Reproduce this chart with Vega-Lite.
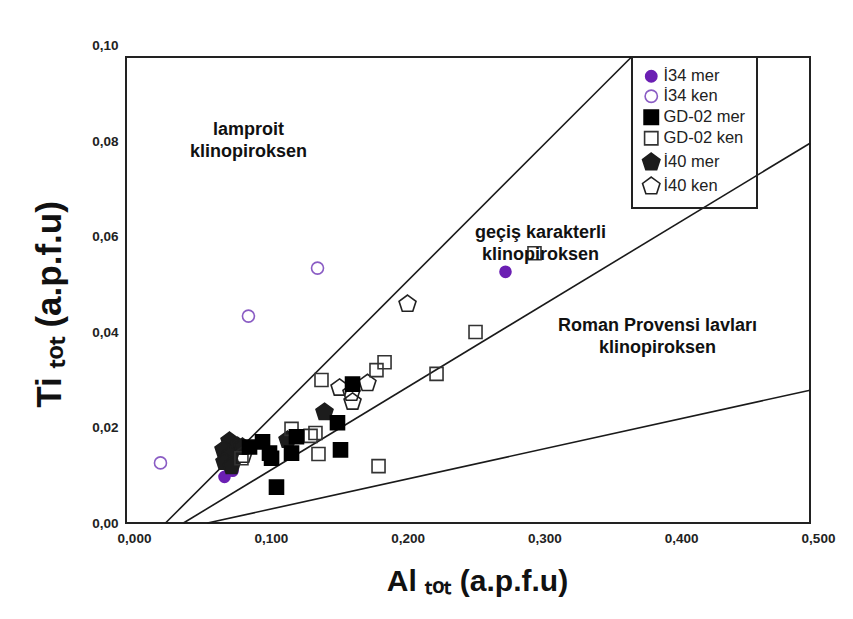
{
  "$schema": "https://vega.github.io/schema/vega-lite/v6.json",
  "width": 684,
  "height": 466,
  "autosize": {"type": "none"},
  "padding": {"left": 126, "top": 57, "right": 43, "bottom": 96},
  "background": "white",
  "datasets": {
    "lines": [
      {"line": "a", "x": 0.0289, "y": 0},
      {"line": "a", "x": 0.3695, "y": 0.1},
      {"line": "b", "x": 0.042, "y": 0},
      {"line": "b", "x": 0.5, "y": 0.0815},
      {"line": "c", "x": 0.0596, "y": 0},
      {"line": "c", "x": 0.5, "y": 0.0285}
    ],
    "points": [
      {"series": "İ34 mer", "x": 0.2774, "y": 0.0539},
      {"series": "İ34 mer", "x": 0.0720, "y": 0.0099},
      {"series": "İ34 mer", "x": 0.0779, "y": 0.0112},
      {"series": "İ34 mer", "x": 0.0749, "y": 0.0122},
      {"series": "İ34 ken", "x": 0.1400, "y": 0.0547},
      {"series": "İ34 ken", "x": 0.0895, "y": 0.0444},
      {"series": "İ34 ken", "x": 0.0252, "y": 0.0129},
      {"series": "İ40 mer", "x": 0.1451, "y": 0.0238},
      {"series": "İ40 mer", "x": 0.1181, "y": 0.0178},
      {"series": "İ40 mer", "x": 0.0757, "y": 0.0176},
      {"series": "İ40 mer", "x": 0.0815, "y": 0.0165},
      {"series": "İ40 mer", "x": 0.0713, "y": 0.0157},
      {"series": "İ40 mer", "x": 0.0764, "y": 0.0146},
      {"series": "İ40 mer", "x": 0.0720, "y": 0.0131},
      {"series": "İ40 mer", "x": 0.0771, "y": 0.0122},
      {"series": "İ40 mer", "x": 0.0852, "y": 0.0163},
      {"series": "İ40 ken", "x": 0.2058, "y": 0.0470},
      {"series": "İ40 ken", "x": 0.1561, "y": 0.0290},
      {"series": "İ40 ken", "x": 0.1765, "y": 0.0300},
      {"series": "İ40 ken", "x": 0.1648, "y": 0.0279},
      {"series": "İ40 ken", "x": 0.1656, "y": 0.0260},
      {"series": "İ40 ken", "x": 0.0859, "y": 0.0146},
      {"series": "GD-02 ken", "x": 0.1429, "y": 0.0307},
      {"series": "GD-02 ken", "x": 0.1831, "y": 0.0328},
      {"series": "GD-02 ken", "x": 0.1890, "y": 0.0345},
      {"series": "GD-02 ken", "x": 0.2270, "y": 0.0320},
      {"series": "GD-02 ken", "x": 0.2555, "y": 0.0410},
      {"series": "GD-02 ken", "x": 0.2986, "y": 0.0579},
      {"series": "GD-02 ken", "x": 0.1210, "y": 0.0202},
      {"series": "GD-02 ken", "x": 0.1349, "y": 0.0187},
      {"series": "GD-02 ken", "x": 0.1385, "y": 0.0193},
      {"series": "GD-02 ken", "x": 0.1407, "y": 0.0148},
      {"series": "GD-02 ken", "x": 0.1846, "y": 0.0122},
      {"series": "GD-02 ken", "x": 0.0844, "y": 0.0139},
      {"series": "GD-02 mer", "x": 0.0903, "y": 0.0163},
      {"series": "GD-02 mer", "x": 0.0998, "y": 0.0174},
      {"series": "GD-02 mer", "x": 0.1049, "y": 0.0150},
      {"series": "GD-02 mer", "x": 0.1064, "y": 0.0139},
      {"series": "GD-02 mer", "x": 0.1100, "y": 0.0077},
      {"series": "GD-02 mer", "x": 0.1246, "y": 0.0185},
      {"series": "GD-02 mer", "x": 0.1210, "y": 0.0150},
      {"series": "GD-02 mer", "x": 0.1546, "y": 0.0215},
      {"series": "GD-02 mer", "x": 0.1568, "y": 0.0157},
      {"series": "GD-02 mer", "x": 0.1656, "y": 0.0298}
    ],
    "labels": [
      {"text": "lamproit\nklinopiroksen", "x": 0.0895, "y": 0.0843},
      {"text": "geçiş karakterli\nklinopiroksen", "x": 0.3030, "y": 0.0622},
      {"text": "Roman Provensi lavları\nklinopiroksen", "x": 0.3885, "y": 0.0423}
    ]
  },
  "encoding": {
    "x": {
      "field": "x", "type": "quantitative",
      "scale": {"domain": [0, 0.5], "nice": false, "zero": true},
      "axis": {
        "values": [0, 0.1, 0.2, 0.3, 0.4, 0.5],
        "format": ".3f",
        "title": "Al ₜₒₜ (a.p.f.u)",
        "grid": false, "ticks": false, "domain": false,
        "labelFont": "Liberation Sans Narrow, Liberation Sans",
        "labelFontWeight": "bold", "labelFontSize": 13.5, "labelColor": "#222",
        "labelPadding": 8, "labelOffset": 8,
        "labelFlush": false,
        "titleFont": "Liberation Sans", "titleFontWeight": "bold", "titleFontSize": 30,
        "titleColor": "#111", "titlePadding": 22, "titleX": 351
      }
    },
    "y": {
      "field": "y", "type": "quantitative",
      "scale": {"domain": [0, 0.1], "nice": false, "zero": true},
      "axis": {
        "values": [0, 0.02, 0.04, 0.06, 0.08, 0.1],
        "format": ".2f",
        "title": "Ti ₜₒₜ (a.p.f.u)",
        "grid": false, "ticks": false, "domain": false,
        "labelFont": "Liberation Sans Narrow, Liberation Sans",
        "labelFontWeight": "bold", "labelFontSize": 13.5, "labelColor": "#222",
        "labelPadding": 8,
        "labelOffset": {"expr": "-datum.value*115"},
        "labelFlush": false,
        "titleFont": "Liberation Sans", "titleFontWeight": "bold", "titleFontSize": 35,
        "titleColor": "#111", "titlePadding": 24, "titleY": 247
      }
    }
  },
  "layer": [
    {
      "data": {"name": "lines"},
      "mark": {"type": "line", "color": "#1a1a1a", "strokeWidth": 1.6},
      "encoding": {"detail": {"field": "line"}}
    },
    {
      "data": {"name": "points"},
      "mark": {"type": "point", "filled": false, "strokeWidth": 1.6, "opacity": 1, "size": 100},
      "encoding": {
        "shape": {
          "field": "series", "type": "nominal",
          "scale": {
            "domain": ["İ34 mer", "İ34 ken", "GD-02 mer", "GD-02 ken", "İ40 mer", "İ40 ken"],
            "range": [
              "M1.1,0A1.1,1.1,0,1,1,-1.1,0A1.1,1.1,0,1,1,1.1,0Z",
              "M1.2,0A1.2,1.2,0,1,1,-1.2,0A1.2,1.2,0,1,1,1.2,0Z",
              "M-1.4,-1.4L1.4,-1.4L1.4,1.4L-1.4,1.4Z",
              "M-1.3,-1.3L1.3,-1.3L1.3,1.3L-1.3,1.3Z",
              "M0,-1.79L1.7,-0.55L1.05,1.45L-1.05,1.45L-1.7,-0.55Z",
              "M0,-1.79L1.7,-0.55L1.05,1.45L-1.05,1.45L-1.7,-0.55Z"]
          },
          "legend": {
            "title": null, "orient": "none", "legendX": 506, "legendY": 0,
            "strokeColor": "#222", "padding": 11,
            "labelFont": "Liberation Sans", "labelFontSize": 16.5, "labelColor": "#222",
            "labelOffset": 4, "symbolStrokeWidth": 1.6, "symbolSize": 105,
            "rowPadding": 0, "labelLimit": 200
          }
        },
        "fill": {
          "field": "series", "type": "nominal",
          "scale": {
            "domain": ["İ34 mer", "İ34 ken", "GD-02 mer", "GD-02 ken", "İ40 mer", "İ40 ken"],
            "range": ["#6b1fb3", "transparent", "#000000", "transparent", "#1c1c1c", "transparent"]
          }
        },
        "stroke": {
          "field": "series", "type": "nominal",
          "scale": {
            "domain": ["İ34 mer", "İ34 ken", "GD-02 mer", "GD-02 ken", "İ40 mer", "İ40 ken"],
            "range": ["#6b1fb3", "#8a5cc4", "#000000", "#333333", "#1c1c1c", "#222222"]
          }
        }
      }
    },
    {
      "data": {"name": "labels"},
      "mark": {
        "type": "text", "align": "center", "baseline": "middle",
        "lineBreak": "\n", "lineHeight": 22,
        "font": "Liberation Sans", "fontWeight": "bold", "fontSize": 18, "color": "#111"
      },
      "encoding": {"text": {"field": "text"}}
    }
  ],
  "config": {
    "locale": {"number": {"decimal": ",", "thousands": ".", "grouping": [3], "currency": ["", ""]}},
    "view": {"stroke": "#222", "strokeWidth": 2},
    "legend": {"strokeWidth": 2, "labelFontSize": 16.5, "labelFont": "Liberation Sans", "labelColor": "#222", "symbolStrokeWidth": 1.6, "symbolSize": 105, "rowPadding": 0}
  }
}
